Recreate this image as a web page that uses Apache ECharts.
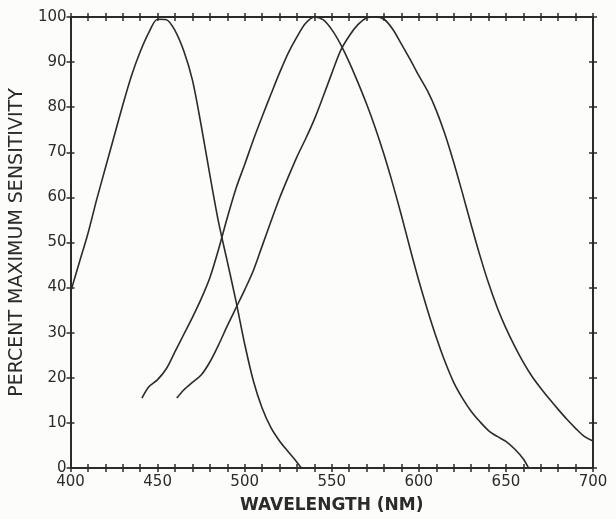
<!DOCTYPE html>
<html>
<head>
<meta charset="utf-8">
<script src="https://cdn.jsdelivr.net/npm/echarts@6/dist/echarts.min.js"></script>
<style>
html,body{margin:0;padding:0;background:#fcfcfb;}
#chart{width:616px;height:519px;}
</style>
</head>
<body>
<div id="chart"></div>
<script>
// Short-wave curve (peak ~450 nm)
const sWave = [400,405,410,415,420,425,430,435,440,445,450,455,460,465,470,475,480,485,490,495,500,505,510,515,520,525,530,532.5];
const sVal  = [39,45.5,52,59.5,66.5,73.5,80.5,87,92.3,96.6,99.5,99.4,97,92.5,86,76,65,54.5,45.8,37,27.5,19.3,13.3,9,6,3.6,1.3,0];

// Middle-wave curve (peak ~540 nm)
const mWave = [441,445,450,455,460,465,470,475,480,485,490,495,500,505,510,515,520,525,530,535,540,545,550,555,560,565,570,575,580,585,590,595,600,605,610,615,620,625,630,635,640,645,650,655,660,663];
const mVal  = [15.5,18,19.6,22,25.8,29.6,33.4,37.5,42.2,48.5,55.5,62,67.3,72.8,77.9,82.8,87.6,92,95.6,98.6,100,99.4,97.2,94,90,85.5,80.7,75.4,69.5,63,56,48.6,41.5,35,29,23.6,19,15.5,12.6,10.3,8.3,7,5.9,4.2,2,0];

// Long-wave curve (peak ~575 nm)
const lWave = [461,465,470,475,480,485,490,495,500,505,510,515,520,525,530,535,540,545,550,555,560,565,570,575,580,585,590,595,600,605,610,615,620,625,630,635,640,645,650,655,660,665,670,675,680,685,690,695,700];
const lVal  = [15.5,17.3,19,20.6,23.5,27.3,31.5,35.5,39.5,43.8,49.2,54.6,59.8,64.5,69,73,77.3,82.3,87.5,92.5,95.8,98.3,99.8,100,99.5,97.3,94,90.6,87,83.6,79.3,74,67.8,61,54,47.2,41,35.6,31,27,23.4,20.3,17.7,15.3,13,10.8,8.8,7,6];

const xTicks = [400,450,500,550,600,650,700];
const yTicks = [0,10,20,30,40,50,60,70,80,90,100];

const ink = '#2b2b2b';
const zip = (a,b) => a.map((x,i)=>[x,b[i]]);

function xAx(pos, inside, labels, line){
  return {
    type:'value', position:pos, min:400, max:700, interval:10,
    axisLine:{show:line, onZero:false, lineStyle:{color:ink,width:2}},
    axisTick:{show:true, inside:inside, length:4, lineStyle:{color:ink,width:1.5}},
    splitLine:{show:false},
    axisLabel:{show:labels, margin:7, color:ink, fontFamily:'DejaVu Sans', fontSize:15,
      formatter:v => xTicks.indexOf(v) >= 0 ? String(v) : ''},
    name: labels ? 'WAVELENGTH (NM)' : '',
    nameLocation:'middle', nameGap:29,
    nameTextStyle:{color:ink, fontFamily:'DejaVu Sans', fontSize:17, fontWeight:'bold'}
  };
}
function yAx(pos, inside, labels, line){
  return {
    type:'value', position:pos, min:0, max:100, interval:10,
    axisLine:{show:line, onZero:false, lineStyle:{color:ink,width:2}},
    axisTick:{show:true, inside:inside, length:4, lineStyle:{color:ink,width:1.5}},
    splitLine:{show:false},
    axisLabel:{show:labels, margin:4, color:ink, fontFamily:'DejaVu Sans', fontSize:15,
      formatter:v => yTicks.indexOf(v) >= 0 ? String(v) : ''},
    name: labels ? 'PERCENT MAXIMUM SENSITIVITY' : '',
    nameLocation:'middle', nameGap:39,
    nameTextStyle:{color:ink, fontFamily:'DejaVu Sans', fontSize:19}
  };
}

const lineStyle = {color:ink, width:1.6};
const mk = (name, w, v) => ({
  name, type:'line', data:zip(w,v), showSymbol:false, smooth:0.3,
  lineStyle, xAxisIndex:0, yAxisIndex:0, animation:false, clip:false
});

const chart = echarts.init(document.getElementById('chart'), null, {renderer:'canvas'});
chart.setOption({
  backgroundColor:'#fcfcfb',
  animation:false,
  grid:{left:68, right:23, top:17, bottom:44, containLabel:false},
  xAxis:[xAx('bottom',false,true,true), xAx('bottom',true,false,false), xAx('top',false,false,true), xAx('top',true,false,false)],
  yAxis:[yAx('left',false,true,true), yAx('left',true,false,false), yAx('right',false,false,true), yAx('right',true,false,false)],
  series:[mk('S',sWave,sVal), mk('M',mWave,mVal), mk('L',lWave,lVal)]
});
</script>
</body>
</html>
